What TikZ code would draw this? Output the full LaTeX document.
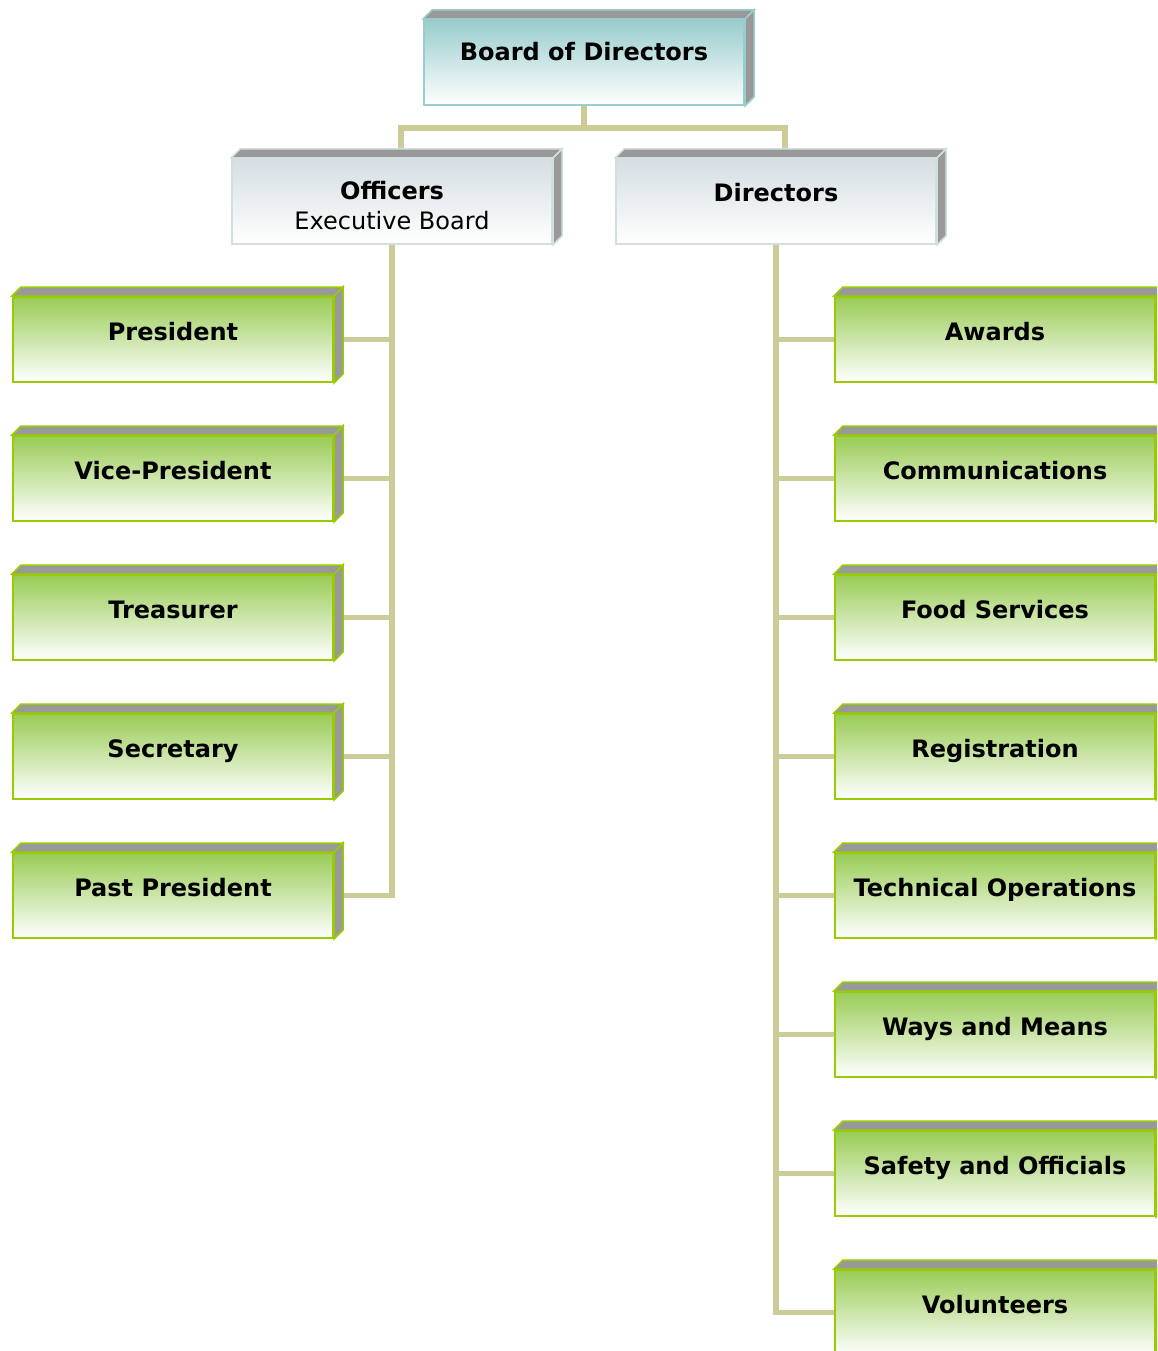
\documentclass[tikz,border=0pt]{standalone}
\usepackage{fontspec}
\setmainfont{DejaVu Sans}
\usetikzlibrary{calc}

\definecolor{boardtop}{HTML}{99CCCC}
\definecolor{boardedge}{HTML}{99CCCC}
\definecolor{headtop}{HTML}{D4DEE2}
\definecolor{headedge}{HTML}{D3DEDE}
\definecolor{leaftop}{HTML}{99CC55}
\definecolor{leafedge}{HTML}{99CC00}
\definecolor{facegray}{HTML}{999999}
\definecolor{linkcol}{HTML}{CCCC99}

\pgfdeclarelayer{back}
\pgfsetlayers{back,main}

\tikzset{
    orgbox/.style={draw=#1, line width=2pt, anchor=north west, inner sep=0pt,
        minimum width=320pt, minimum height=85pt, bottom color=white,
        font=\fontsize{24}{30}\selectfont\bfseries, align=center},
    boardbox/.style={orgbox=boardedge, top color=boardtop, text height=17pt, text depth=20pt},
    headbox/.style={orgbox=headedge, top color=headtop},
    leafbox/.style={orgbox=leafedge, top color=leaftop, text height=17pt, text depth=15pt},
    link/.style={draw=linkcol, line width=5.5pt}
}

% grey top and side of a box
\newcommand{\boxfaces}[2]{
    \filldraw[draw=#2, fill=facegray, line width=1.5pt] (#1.north west) -- ++(9,-9) -- ([shift={(9,-9)}]#1.north east) -- (#1.north east) -- cycle;
    \filldraw[draw=#2, fill=facegray, line width=1.5pt] (#1.north east) -- ++(9,-9) -- ([shift={(9,-9)}]#1.south east) -- (#1.south east) -- cycle;
}

\begin{document}
\begin{tikzpicture}[x=1pt, y=-1pt]
    \path[use as bounding box, clip] (0,0) rectangle (1157,1351);

    \node[boardbox] (board) at (423,19) {Board of Directors};
    \boxfaces{board}{boardedge}

    \node[headbox, text height=56pt, text depth=0pt] (officers) at (231,158) {Officers\\\mdseries Executive Board};
    \boxfaces{officers}{headedge}
    \node[headbox, text height=17pt, text depth=18pt] (directors) at (615,158) {Directors};
    \boxfaces{directors}{headedge}

    % officers
    \foreach \name [count=\i] in {President, Vice-President, Treasurer, Secretary, Past President} {
        \node[leafbox] (o\i) at (12,{296+139*(\i-1)}) {\name};
        \boxfaces{o\i}{leafedge}
    }

    % directors
    \foreach \name [count=\i] in {Awards, Communications, Food Services, Registration,
        Technical Operations, Ways and Means, Safety and Officials, Volunteers} {
        \node[leafbox] (d\i) at (834,{296+139*(\i-1)}) {\name};
        \boxfaces{d\i}{leafedge}
    }

    \begin{pgfonlayer}{back}
        \coordinate (split) at ([shift={(0,22)}]board.south);
        \draw[link] (board.south) -- (split) -| ([shift={(9,-9)}]officers.north);
        \draw[link] (split) -| ([shift={(9,-9)}]directors.north);
        \foreach \i in {1,...,5}
            \draw[link] (officers.south) |- (o\i.east);
        \foreach \i in {1,...,8}
            \draw[link] (directors.south) |- (d\i.west);
    \end{pgfonlayer}
\end{tikzpicture}
\end{document}
